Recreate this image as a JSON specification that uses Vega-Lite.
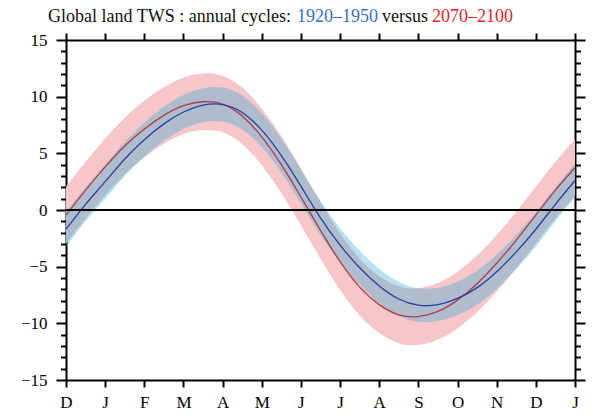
{
  "$schema": "https://vega.github.io/schema/vega-lite/v6.json",
  "width": 509,
  "height": 340,
  "autosize": {"type": "none"},
  "padding": {"left": 66, "top": 40, "right": 29, "bottom": 37},
  "config": {
    "view": {"stroke": null},
    "font": "Liberation Serif",
    "axis": {
      "grid": false,
      "domainColor": "black",
      "domainWidth": 2,
      "tickColor": "black",
      "tickWidth": 2,
      "labelFont": "Liberation Serif",
      "labelFontSize": 17,
      "labelColor": "black",
      "labelFlush": false,
      "labelOverlap": false,
      "title": null
    }
  },
  "datasets": {
    "cycles": [
      {"m": 0, "blue": -1.7, "blue_lo": -3.25, "blue_hi": -0.2, "red": -0.45, "red_lo": -2.95, "red_hi": 2.05},
      {"m": 0.5, "blue": 0.5, "blue_lo": -1.0, "blue_hi": 2.0, "red": 1.75, "red_lo": -0.75, "red_hi": 4.25},
      {"m": 1, "blue": 2.5, "blue_lo": 1.0, "blue_hi": 4.0, "red": 3.8, "red_lo": 1.3, "red_hi": 6.3},
      {"m": 1.5, "blue": 4.5, "blue_lo": 3.0, "blue_hi": 6.0, "red": 5.65, "red_lo": 3.15, "red_hi": 8.15},
      {"m": 2, "blue": 6.2, "blue_lo": 4.7, "blue_hi": 7.7, "red": 7.15, "red_lo": 4.65, "red_hi": 9.65},
      {"m": 2.5, "blue": 7.6, "blue_lo": 6.1, "blue_hi": 9.1, "red": 8.35, "red_lo": 5.85, "red_hi": 10.85},
      {"m": 3, "blue": 8.65, "blue_lo": 7.15, "blue_hi": 10.15, "red": 9.2, "red_lo": 6.7, "red_hi": 11.7},
      {"m": 3.5, "blue": 9.25, "blue_lo": 7.75, "blue_hi": 10.75, "red": 9.55, "red_lo": 7.05, "red_hi": 12.05},
      {"m": 4, "blue": 9.3, "blue_lo": 7.8, "blue_hi": 10.8, "red": 9.35, "red_lo": 6.85, "red_hi": 11.85},
      {"m": 4.5, "blue": 8.6, "blue_lo": 7.1, "blue_hi": 10.1, "red": 8.3, "red_lo": 5.8, "red_hi": 10.8},
      {"m": 5, "blue": 7.05, "blue_lo": 5.55, "blue_hi": 8.55, "red": 6.45, "red_lo": 3.95, "red_hi": 8.95},
      {"m": 5.5, "blue": 4.8, "blue_lo": 3.3, "blue_hi": 6.3, "red": 4.0, "red_lo": 1.5, "red_hi": 6.5},
      {"m": 6, "blue": 2.1, "blue_lo": 0.6, "blue_hi": 3.6, "red": 1.15, "red_lo": -1.35, "red_hi": 3.65},
      {"m": 6.5, "blue": -0.7, "blue_lo": -2.2, "blue_hi": 0.8, "red": -1.8, "red_lo": -4.3, "red_hi": 0.7},
      {"m": 7, "blue": -3.1, "blue_lo": -4.6, "blue_hi": -1.6, "red": -4.55, "red_lo": -7.05, "red_hi": -2.05},
      {"m": 7.5, "blue": -5.1, "blue_lo": -6.6, "blue_hi": -3.6, "red": -6.8, "red_lo": -9.3, "red_hi": -4.3},
      {"m": 8, "blue": -6.7, "blue_lo": -8.2, "blue_hi": -5.2, "red": -8.35, "red_lo": -10.85, "red_hi": -5.85},
      {"m": 8.5, "blue": -7.85, "blue_lo": -9.35, "blue_hi": -6.35, "red": -9.25, "red_lo": -11.75, "red_hi": -6.75},
      {"m": 9, "blue": -8.4, "blue_lo": -9.85, "blue_hi": -6.9, "red": -9.4, "red_lo": -11.9, "red_hi": -6.9},
      {"m": 9.5, "blue": -8.35, "blue_lo": -9.8, "blue_hi": -6.85, "red": -8.95, "red_lo": -11.45, "red_hi": -6.45},
      {"m": 10, "blue": -7.8, "blue_lo": -9.25, "blue_hi": -6.3, "red": -7.95, "red_lo": -10.45, "red_hi": -5.45},
      {"m": 10.5, "blue": -6.85, "blue_lo": -8.35, "blue_hi": -5.35, "red": -6.5, "red_lo": -9.0, "red_hi": -4.0},
      {"m": 11, "blue": -5.45, "blue_lo": -6.95, "blue_hi": -3.95, "red": -4.7, "red_lo": -7.2, "red_hi": -2.2},
      {"m": 11.5, "blue": -3.7, "blue_lo": -5.2, "blue_hi": -2.2, "red": -2.65, "red_lo": -5.15, "red_hi": -0.15},
      {"m": 12, "blue": -1.7, "blue_lo": -3.25, "blue_hi": -0.2, "red": -0.45, "red_lo": -2.95, "red_hi": 2.05},
      {"m": 12.5, "blue": 0.5, "blue_lo": -1.0, "blue_hi": 2.0, "red": 1.75, "red_lo": -0.75, "red_hi": 4.25},
      {"m": 13, "blue": 2.6, "blue_lo": 1.1, "blue_hi": 4.1, "red": 3.75, "red_lo": 1.25, "red_hi": 6.25}
    ],
    "one": [{"k": 1}]
  },
  "resolve": {"axis": {"x": "independent", "y": "independent"}},
  "layer": [
    {
      "data": {"name": "cycles"},
      "mark": {"type": "area", "color": "#f6c6c9", "interpolate": "natural"},
      "encoding": {
        "x": {"field": "m", "type": "quantitative", "scale": {"domain": [0, 13], "nice": false, "zero": false},
          "axis": {"orient": "bottom", "values": [0,1,2,3,4,5,6,7,8,9,10,11,12,13], "tickSize": 7, "labelPadding": 7,
            "labelExpr": "['D','J','F','M','A','M','J','J','A','S','O','N','D','J'][datum.value]"}},
        "y": {"field": "red_lo", "type": "quantitative", "scale": {"domain": [-15, 15], "nice": false, "zero": false},
          "axis": {"orient": "left", "values": [-15,-10,-5,0,5,10,15], "tickSize": 10, "labelPadding": 9}},
        "y2": {"field": "red_hi"}
      }
    },
    {
      "data": {"name": "cycles"},
      "mark": {"type": "area", "color": "#2aa9d4", "opacity": 0.35, "interpolate": "natural"},
      "encoding": {
        "x": {"field": "m", "type": "quantitative", "scale": {"domain": [0, 13], "nice": false, "zero": false},
          "axis": {"orient": "top", "values": [0,1,2,3,4,5,6,7,8,9,10,11,12,13], "tickSize": 7, "labels": false}},
        "y": {"field": "blue_lo", "type": "quantitative", "scale": {"domain": [-15, 15], "nice": false, "zero": false},
          "axis": {"orient": "left", "values": [-14,-13,-12,-11,-9,-8,-7,-6,-4,-3,-2,-1,1,2,3,4,6,7,8,9,11,12,13,14], "tickSize": 5.5, "labels": false, "domain": false}},
        "y2": {"field": "blue_hi"}
      }
    },
    {
      "data": {"name": "cycles"},
      "mark": {"type": "line", "color": "#b03a48", "strokeWidth": 1.3, "interpolate": "natural"},
      "encoding": {
        "x": {"field": "m", "type": "quantitative", "scale": {"domain": [0, 13], "nice": false, "zero": false}, "axis": null},
        "y": {"field": "red", "type": "quantitative", "scale": {"domain": [-15, 15], "nice": false, "zero": false},
          "axis": {"orient": "right", "values": [-15,-10,-5,0,5,10,15], "tickSize": 10, "labels": false}}
      }
    },
    {
      "data": {"name": "cycles"},
      "mark": {"type": "line", "color": "#2b3d9a", "strokeWidth": 1.3, "interpolate": "natural"},
      "encoding": {
        "x": {"field": "m", "type": "quantitative", "scale": {"domain": [0, 13], "nice": false, "zero": false}, "axis": null},
        "y": {"field": "blue", "type": "quantitative", "scale": {"domain": [-15, 15], "nice": false, "zero": false},
          "axis": {"orient": "right", "values": [-14,-13,-12,-11,-9,-8,-7,-6,-4,-3,-2,-1,1,2,3,4,6,7,8,9,11,12,13,14], "tickSize": 5.5, "labels": false, "domain": false}}
      }
    },
    {
      "data": {"name": "one"},
      "mark": {"type": "rule", "color": "black", "strokeWidth": 2},
      "encoding": {
        "y": {"datum": 0, "type": "quantitative", "scale": {"domain": [-15, 15], "nice": false, "zero": false}, "axis": null}
      }
    },
    {
      "data": {"name": "one"},
      "mark": {"type": "text", "text": "Global land TWS : annual cycles:", "align": "left", "baseline": "alphabetic", "fontSize": 18, "font": "Liberation Serif", "fill": "#111111"},
      "encoding": {
        "x": {"datum": -0.46, "type": "quantitative", "scale": {"domain": [0, 13], "nice": false, "zero": false}, "axis": null},
        "y": {"datum": 16.63, "type": "quantitative", "scale": {"domain": [-15, 15], "nice": false, "zero": false}, "axis": null}
      }
    },
    {
      "data": {"name": "one"},
      "mark": {"type": "text", "text": "1920–1950", "align": "left", "baseline": "alphabetic", "fontSize": 18, "font": "Liberation Serif", "fill": "#3b6fc0"},
      "encoding": {
        "x": {"datum": 5.9, "type": "quantitative", "scale": {"domain": [0, 13], "nice": false, "zero": false}, "axis": null},
        "y": {"datum": 16.63, "type": "quantitative", "scale": {"domain": [-15, 15], "nice": false, "zero": false}, "axis": null}
      }
    },
    {
      "data": {"name": "one"},
      "mark": {"type": "text", "text": "versus", "align": "left", "baseline": "alphabetic", "fontSize": 18, "font": "Liberation Serif", "fill": "#111111"},
      "encoding": {
        "x": {"datum": 8.07, "type": "quantitative", "scale": {"domain": [0, 13], "nice": false, "zero": false}, "axis": null},
        "y": {"datum": 16.63, "type": "quantitative", "scale": {"domain": [-15, 15], "nice": false, "zero": false}, "axis": null}
      }
    },
    {
      "data": {"name": "one"},
      "mark": {"type": "text", "text": "2070–2100", "align": "left", "baseline": "alphabetic", "fontSize": 18, "font": "Liberation Serif", "fill": "#e0262e"},
      "encoding": {
        "x": {"datum": 9.35, "type": "quantitative", "scale": {"domain": [0, 13], "nice": false, "zero": false}, "axis": null},
        "y": {"datum": 16.63, "type": "quantitative", "scale": {"domain": [-15, 15], "nice": false, "zero": false}, "axis": null}
      }
    }
  ]
}
